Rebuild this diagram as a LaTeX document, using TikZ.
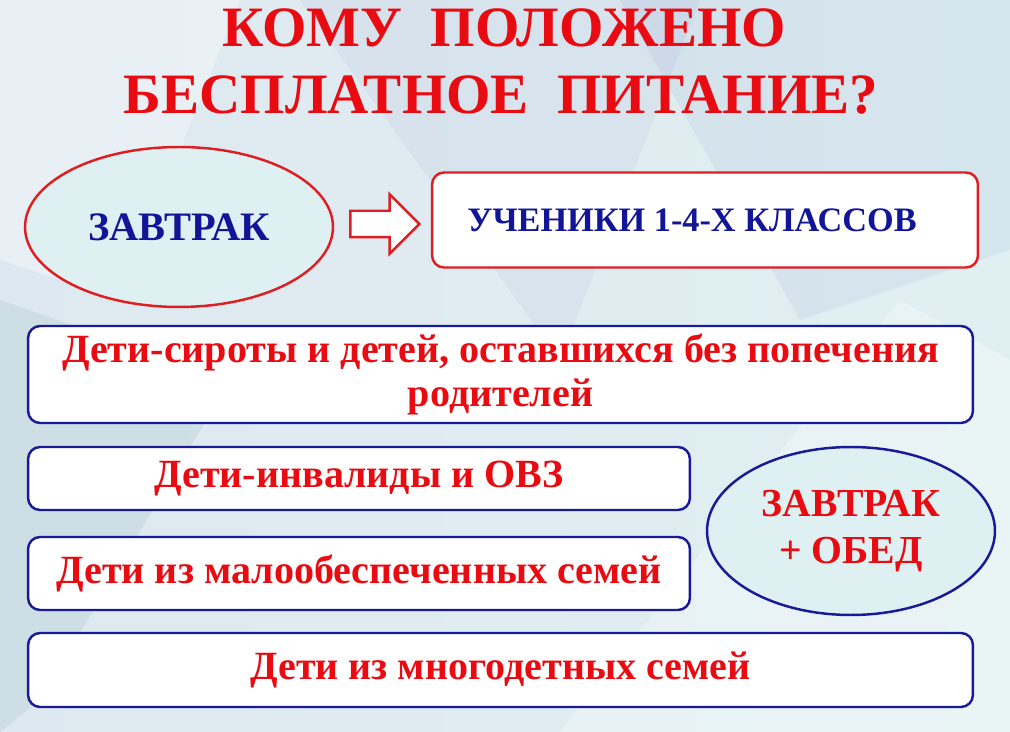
\documentclass[tikz,border=0pt]{standalone}
\usepackage{fontspec}
\setmainfont{Liberation Serif}
\usetikzlibrary{shapes.geometric}
\usetikzlibrary{shapes.arrows}
\usetikzlibrary{calc}
\definecolor{titlered}{RGB}{232,12,18}
\definecolor{textblue}{RGB}{18,22,150}
\definecolor{lineblue}{RGB}{24,26,150}
\definecolor{linered}{RGB}{222,30,34}
\definecolor{cellfill}{RGB}{222,240,242}
\definecolor{bgleft}{RGB}{222,232,240}
\definecolor{bgright}{RGB}{224,240,242}
\definecolor{facet}{RGB}{196,216,222}
\tikzset{basic/.style={draw,line width=1.4pt,fill=white,rounded corners=0.24cm,
                       text badly centered,inner sep=0pt}}
\tikzset{group/.style={basic,draw=lineblue,text=titlered,font=\bfseries\fontsize{22.8}{25}\selectfont}}

\begin{document}
\begin{tikzpicture}[x=0.02cm,y=-0.02cm]
  \coordinate (A) at (0,0);
  \coordinate (B) at (1010,732);

  \tikzstyle{meal}=[ellipse,draw,line width=1.4pt,fill=cellfill,inner sep=0pt,align=center];
  \tikzstyle{heading}=[anchor=base,text=titlered,font=\bfseries\fontsize{32.5}{36}\selectfont];

  % background
  \shade[left color=bgleft,right color=bgright] (A) rectangle (B);
  \fill[facet,opacity=0.6] (0,300) -- (230,380) -- (40,700) -- (0,732) -- cycle;
  \fill[white,opacity=0.35] (0,0) -- (240,0) -- (120,300) -- (0,260) -- cycle;
  \fill[white,opacity=0.3] (560,732) -- (900,300) -- (1010,360) -- (1010,732) -- cycle;
  \fill[lineblue,opacity=0.04] (300,0) -- (700,0) -- (560,360) -- cycle;
  \fill[lineblue,opacity=0.05] (620,0) -- (1010,0) -- (1010,250) -- (800,320) -- cycle;
  \useasboundingbox (A) rectangle (B);

  \node (title_1) at (504,47) [heading]{КОМУ\ \ ПОЛОЖЕНО};
  \node (title_2) at (501,114) [heading]{БЕСПЛАТНОЕ\ \ ПИТАНИЕ?};

  \node (breakfast) at (179,227) [meal,draw=linered,minimum width=6.16cm,minimum height=3.2cm,
        text=textblue,font=\bfseries\fontsize{23}{28}\selectfont]{ЗАВТРАК};
  \node (pupils) at (705,220) [basic,draw=linered,minimum width=10.92cm,minimum height=1.9cm,
        text=textblue,font=\bfseries\fontsize{19.5}{24}\selectfont]{УЧЕНИКИ 1-4-Х КЛАССОВ\hspace*{0.52cm}};

  \node (to_pupils) at ($(breakfast.east)+(15,-3)$) [single arrow,anchor=tail,draw=linered,
        line width=1.4pt,fill=white,inner xsep=0pt,inner ysep=0.24cm,minimum height=1.38cm,
        single arrow head extend=0.33cm]{};

  \node (orphans) at (500.5,374.5) [group,minimum width=18.9cm,minimum height=1.94cm,align=center]
        {Дети-сироты и детей, оставшихся без попечения\\родителей};
  \node (disabled) at (359,478.5) [group,minimum width=13.24cm,minimum height=1.26cm]{Дети-инвалиды и ОВЗ};
  \node (low_income) at (359,573.5) [group,minimum width=13.24cm,minimum height=1.46cm]{Дети из малообеспеченных семей};
  \node (large_family) at (500.5,670) [group,minimum width=18.9cm,minimum height=1.48cm]{Дети из многодетных семей};

  \node (lunch) at (851,531) [meal,draw=lineblue,minimum width=5.76cm,minimum height=3.36cm,
        text=titlered,font=\bfseries\fontsize{22.6}{27}\selectfont]{ЗАВТРАК\\+ ОБЕД};
\end{tikzpicture}
\end{document}
